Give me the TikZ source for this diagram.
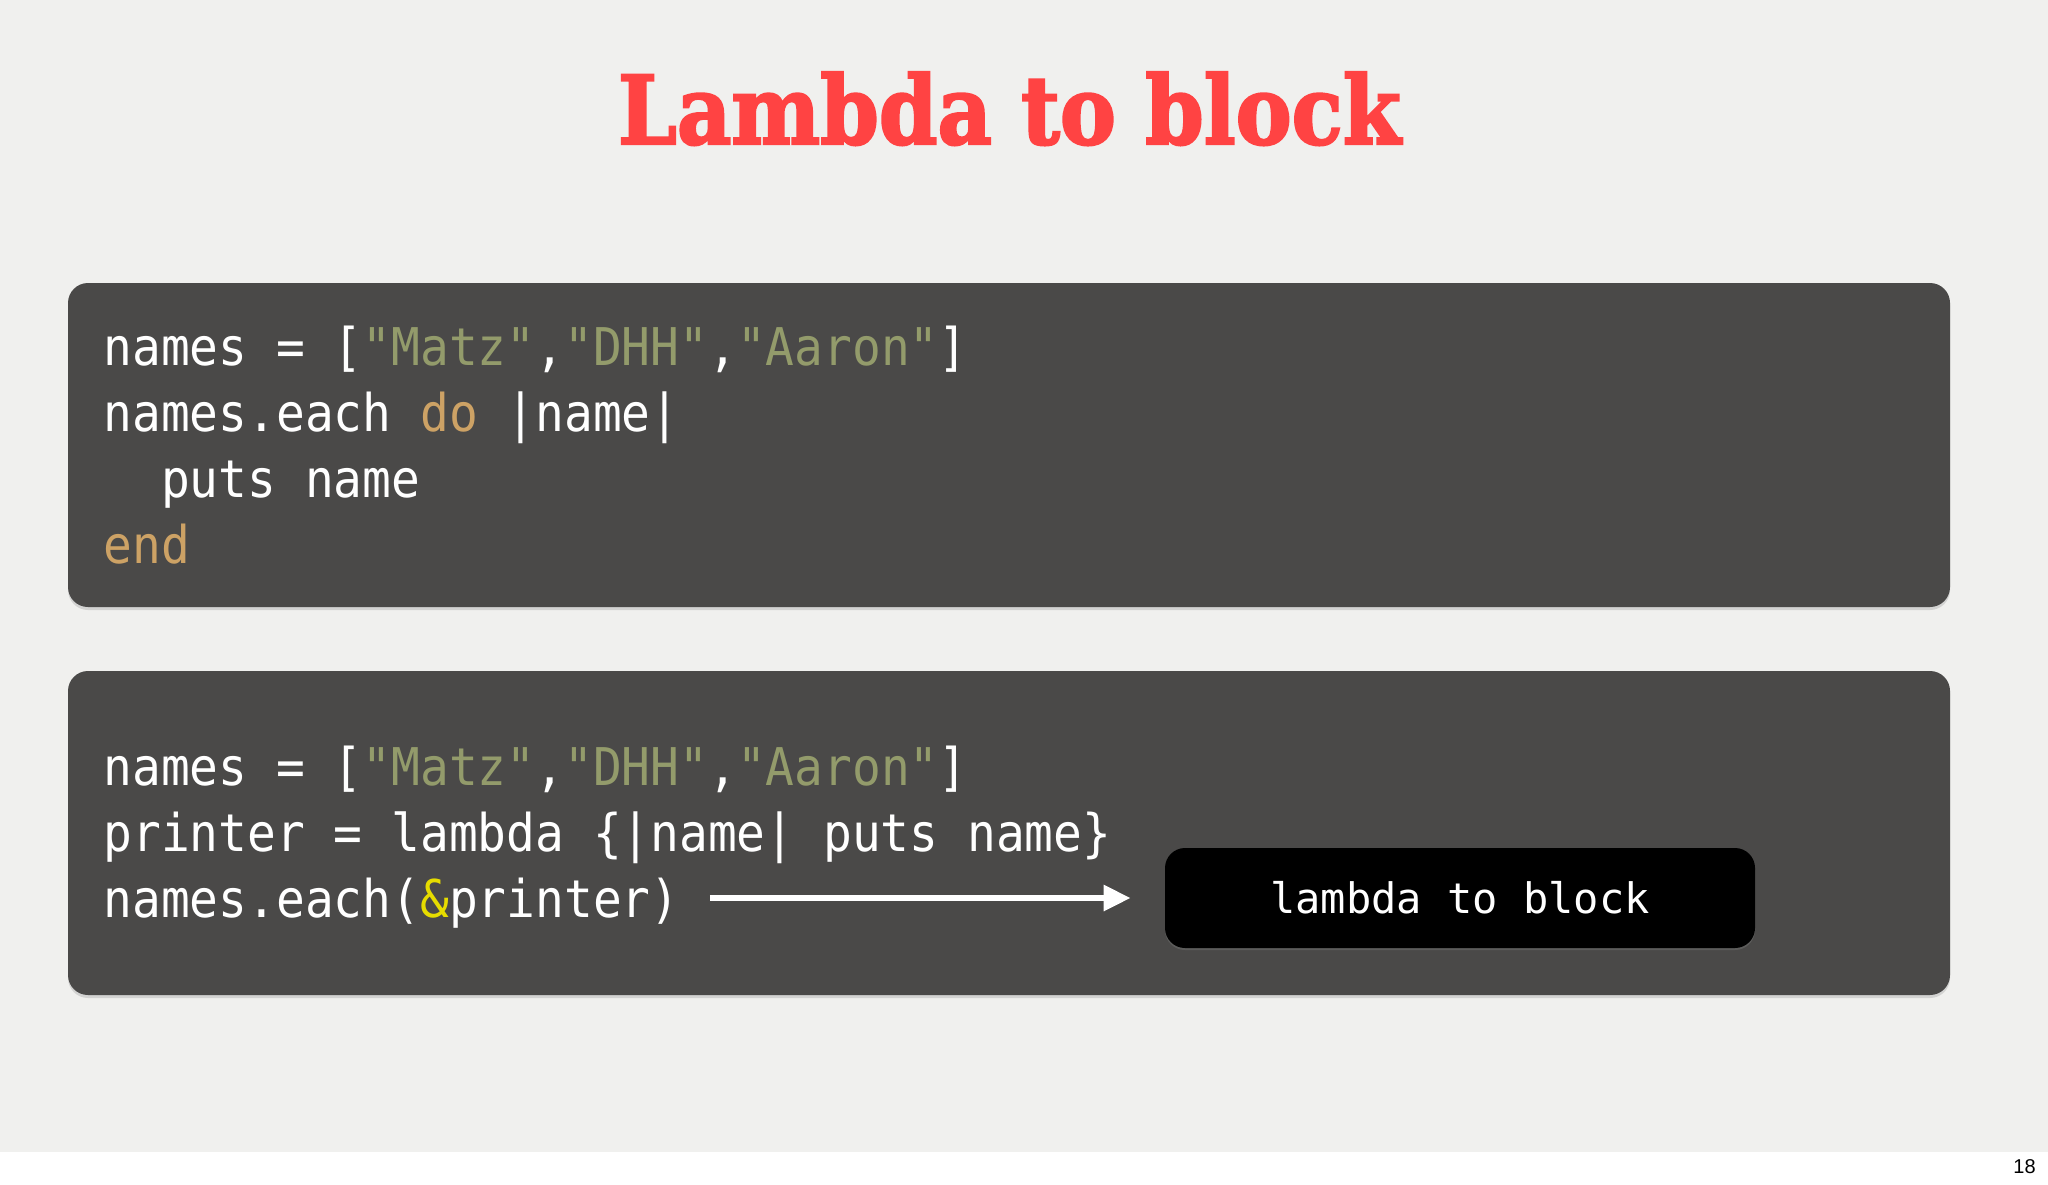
\documentclass[tikz,border=0pt]{standalone}
\usepackage{fontspec}
\usetikzlibrary{arrows.meta,shadows}
\newfontfamily\codefont[FakeStretch=0.92]{DejaVu Sans Mono}
\newfontfamily\tagfont{DejaVu Sans Mono}
\newfontfamily\titlefont[BoldFeatures={FakeBold=2.5}]{DejaVu Serif}
\newfontfamily\numfont{Liberation Sans}
\definecolor{slide}{HTML}{F0F0EE}
\definecolor{panel}{HTML}{4A4948}
\definecolor{titlered}{HTML}{FF4343}
\definecolor{strc}{HTML}{939B6B}
\definecolor{kwc}{HTML}{CDA265}
\definecolor{ampc}{HTML}{E6DC00}
\newcommand{\codestr}[1]{\textcolor{strc}{#1}}
\newcommand{\codekw}[1]{\textcolor{kwc}{#1}}
\newcommand{\codeamp}[1]{\textcolor{ampc}{#1}}
\begin{document}
\begin{tikzpicture}[x=0.5pt,y=-0.5pt,
  panel/.style={fill=panel,rounded corners=10pt,minimum width=941pt,minimum height=162pt,
    drop shadow={shadow xshift=0pt,shadow yshift=-1.5pt,opacity=0.25}},
  code/.style={anchor=base west,inner sep=0pt,text=white,font=\codefont\fontsize{26}{30}\selectfont},
  tagbox/.style={fill=black,rounded corners=10pt,minimum width=295pt,minimum height=50pt,inner sep=0pt,
    text=white,font=\tagfont\fontsize{21}{24}\selectfont,
    drop shadow={shadow xshift=0pt,shadow yshift=-1pt,opacity=0.35}},
  flow/.style={white,line width=3pt,shorten <=15pt,shorten >=17pt,-{Triangle[length=13.5pt,width=12.5pt]}}]
\fill[slide] (0,0) rectangle (2048,1152);
\fill[white] (0,1152) rectangle (2048,1184);
\useasboundingbox (0,0) rectangle (2048,1184);
\node[anchor=base,inner sep=0pt,text=titlered] (title) at (1009.5,144)
  {\resizebox{391.5pt}{36pt}{\titlefont\bfseries Lambda to block}};
\node[panel] (panA) at (1009,445) {};
\node[panel] (panB) at (1009,833) {};
\node[code] (a1) at (103,365) {names = [\codestr{"Matz"},\codestr{"DHH"},\codestr{"Aaron"}]};
\node[code] (a2) at (103,431) {names.each \codekw{do} |name|};
\node[code] (a3) at (103,497) {\ \ puts name};
\node[code] (a4) at (103,563) {\codekw{end}};
\node[code] (b1) at (103,785) {names = [\codestr{"Matz"},\codestr{"DHH"},\codestr{"Aaron"}]};
\node[code] (b2) at (103,851) {printer = lambda \{|name| puts name\}};
\node[code] (b3) at (103,917) {names.each(\codeamp{\&}printer)};
\node[tagbox] (tag) at (1460,898) {lambda to block};
\draw[flow] (b3.east |- tag.west) -- (tag.west);
\node[anchor=base east,inner sep=0pt,font=\numfont\fontsize{10}{12}\selectfont] (page) at (2036,1173) {18};
\end{tikzpicture}
\end{document}
